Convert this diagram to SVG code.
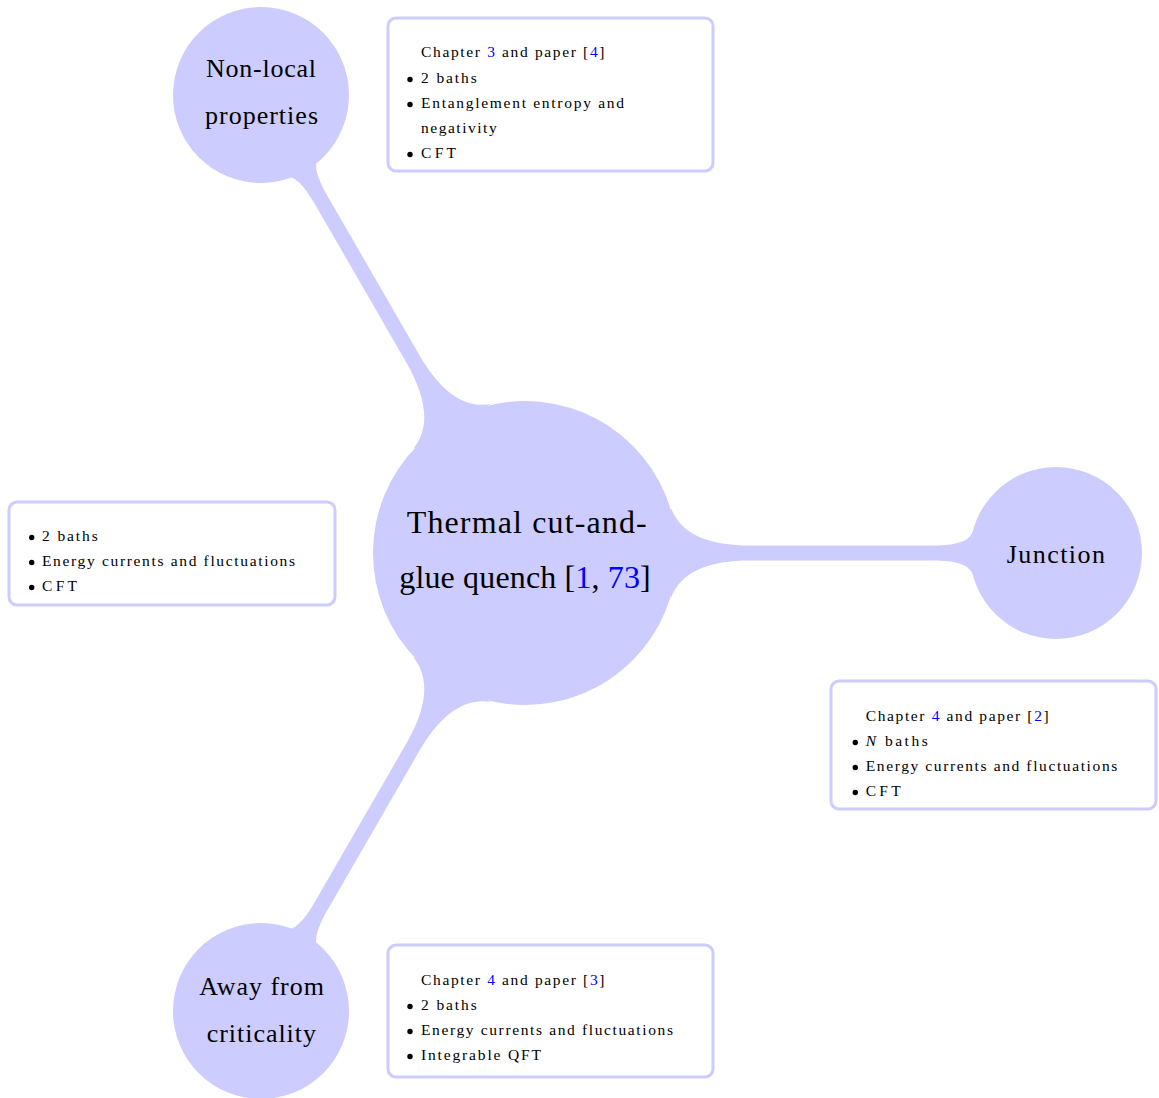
<svg xmlns="http://www.w3.org/2000/svg" width="1159" height="1098" viewBox="0 0 1159 1098">
<style>
.bub{fill:#ccccff}
.con{fill:#ccccff}
.box{fill:#ffffff;stroke:#ccccff;stroke-width:3}
.big{font-family:"Liberation Serif","Times New Roman",serif;font-size:26px;fill:#000}
.ctr{font-family:"Liberation Serif","Times New Roman",serif;font-size:32px;fill:#000}
.sm{font-family:"Liberation Serif","Times New Roman",serif;font-size:15.5px;fill:#000}
.ref{fill:#0000ff}
.dot{fill:#000}
</style>
<defs>
<path id="bar" d="M 146,-45 C 156,-18 185,-7.5 225,-7.5 L 408,-7.5 C 432,-7.5 445,-12 448,-22 L 448,22 C 445,12 432,7.5 408,7.5 L 225,7.5 C 185,7.5 156,18 146,45 Z"/>
</defs>
<g id="connectors">
<use href="#bar" class="con" transform="translate(525,553)"/>
<use href="#bar" class="con" transform="translate(525,553) rotate(-120)"/>
<use href="#bar" class="con" transform="translate(525,553) rotate(120)"/>
</g>
<g id="center">
<circle class="bub" cx="525" cy="553" r="152"/>
<text class="ctr" x="406.7" y="533" textLength="240" lengthAdjust="spacing">Thermal cut-and-</text>
<text class="ctr" x="399.3" y="588" textLength="251.4" lengthAdjust="spacing">glue quench [<tspan class="ref">1</tspan>, <tspan class="ref">73</tspan>]</text>
</g>
<g id="nonlocal">
<circle class="bub" cx="261" cy="95" r="88"/>
<text class="big" x="206" y="77" textLength="110" lengthAdjust="spacing">Non-local</text>
<text class="big" x="205" y="123.5" textLength="113" lengthAdjust="spacing">properties</text>
</g>
<g id="junction">
<circle class="bub" cx="1056" cy="553" r="86"/>
<text class="big" x="1006.7" y="563.3" textLength="98.3" lengthAdjust="spacing">Junction</text>
</g>
<g id="away">
<circle class="bub" cx="261" cy="1011" r="88"/>
<text class="big" x="199.3" y="995" textLength="124.7" lengthAdjust="spacing">Away from</text>
<text class="big" x="206.7" y="1041.7" textLength="109.3" lengthAdjust="spacing">criticality</text>
</g>
<g id="box-nonlocal">
<rect class="box" x="388" y="18" width="325" height="153" rx="8"/>
<text class="sm" x="421" y="57.3" textLength="183.5" lengthAdjust="spacing">Chapter <tspan class="ref">3</tspan> and paper [<tspan class="ref">4</tspan>]</text>
<circle class="dot" cx="410" cy="79.5" r="2.7"/>
<text class="sm" x="421" y="82.7" textLength="55.7" lengthAdjust="spacing">2 baths</text>
<circle class="dot" cx="410" cy="104.5" r="2.7"/>
<text class="sm" x="421" y="107.7" textLength="203" lengthAdjust="spacing">Entanglement entropy and</text>
<text class="sm" x="421" y="132.7" textLength="75.7" lengthAdjust="spacing">negativity</text>
<circle class="dot" cx="410" cy="154.5" r="2.7"/>
<text class="sm" x="421" y="157.7" textLength="35" lengthAdjust="spacing">CFT</text>
</g>
<g id="box-center">
<rect class="box" x="9" y="502" width="326" height="103" rx="8"/>
<circle class="dot" cx="31.7" cy="537.5" r="2.7"/>
<text class="sm" x="42" y="540.7" textLength="55.7" lengthAdjust="spacing">2 baths</text>
<circle class="dot" cx="31.7" cy="562.5" r="2.7"/>
<text class="sm" x="42" y="565.7" textLength="253" lengthAdjust="spacing">Energy currents and fluctuations</text>
<circle class="dot" cx="31.7" cy="587.5" r="2.7"/>
<text class="sm" x="42" y="590.7" textLength="35" lengthAdjust="spacing">CFT</text>
</g>
<g id="box-junction">
<rect class="box" x="831" y="681" width="325" height="128" rx="8"/>
<text class="sm" x="865.7" y="721.3" textLength="183" lengthAdjust="spacing">Chapter <tspan class="ref">4</tspan> and paper [<tspan class="ref">2</tspan>]</text>
<circle class="dot" cx="855.3" cy="742.5" r="2.7"/>
<text class="sm" x="865.7" y="745.7" textLength="62" lengthAdjust="spacing"><tspan font-style="italic">N</tspan> baths</text>
<circle class="dot" cx="855.3" cy="767.5" r="2.7"/>
<text class="sm" x="865.7" y="770.7" textLength="251.6" lengthAdjust="spacing">Energy currents and fluctuations</text>
<circle class="dot" cx="855.3" cy="792.5" r="2.7"/>
<text class="sm" x="865.7" y="795.7" textLength="35" lengthAdjust="spacing">CFT</text>
</g>
<g id="box-away">
<rect class="box" x="388" y="945" width="325" height="132" rx="8"/>
<text class="sm" x="421" y="985.3" textLength="183.5" lengthAdjust="spacing">Chapter <tspan class="ref">4</tspan> and paper [<tspan class="ref">3</tspan>]</text>
<circle class="dot" cx="410" cy="1006.5" r="2.7"/>
<text class="sm" x="421" y="1009.7" textLength="55.7" lengthAdjust="spacing">2 baths</text>
<circle class="dot" cx="410" cy="1031.5" r="2.7"/>
<text class="sm" x="421" y="1034.7" textLength="252" lengthAdjust="spacing">Energy currents and fluctuations</text>
<circle class="dot" cx="410" cy="1056.5" r="2.7"/>
<text class="sm" x="421" y="1059.7" textLength="120" lengthAdjust="spacing">Integrable QFT</text>
</g>
</svg>
